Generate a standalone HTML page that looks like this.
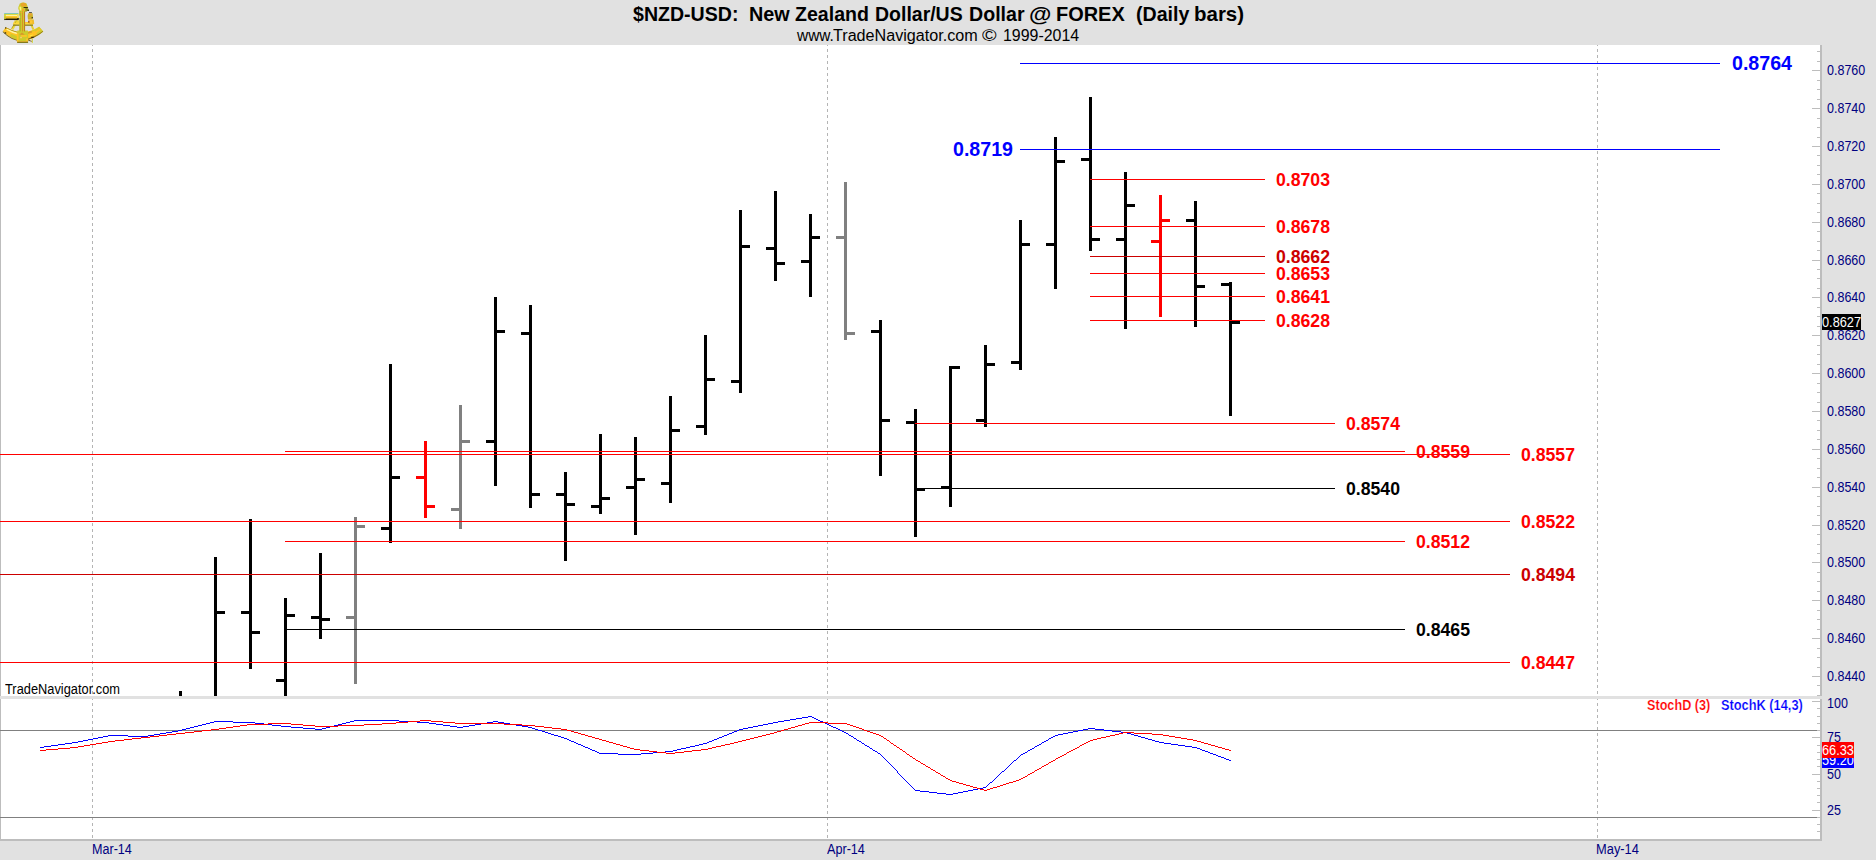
<!DOCTYPE html>
<html><head><meta charset="utf-8"><title>$NZD-USD Daily</title>
<style>
html,body{margin:0;padding:0;}
body{width:1876px;height:860px;background:#E1E1E1;overflow:hidden;position:relative;font-family:"Liberation Sans",sans-serif;}
.t{position:absolute;white-space:nowrap;line-height:1;}
.ax{font-size:13.33px;color:#000080;transform-origin:0 0;transform:scale(0.938,1.1);}
.lv{font-weight:bold;}
.box{position:absolute;color:#fff;font-size:13.33px;line-height:1;white-space:nowrap;overflow:hidden;}
.box span{position:absolute;left:0;top:1px;transform-origin:0 0;transform:scale(0.957,1.1);}
svg{position:absolute;left:0;top:0;}
</style></head><body>
<svg width="1876" height="860" viewBox="0 0 1876 860" shape-rendering="crispEdges">
<rect x="1" y="45" width="1819" height="651" fill="#fff"/>
<rect x="1" y="699" width="1819" height="140" fill="#fff"/>
<rect x="0" y="45" width="1" height="651" fill="#BDBDBD"/>
<rect x="0" y="699" width="1" height="140" fill="#BDBDBD"/>
<defs><clipPath id="cp"><rect x="0" y="45" width="1820" height="651"/><rect x="0" y="699" width="1820" height="140"/></clipPath></defs>
<line x1="92.5" y1="43" x2="92.5" y2="840" stroke="#B4B4B4" stroke-width="1" stroke-dasharray="3 3" clip-path="url(#cp)"/>
<line x1="827.5" y1="43" x2="827.5" y2="840" stroke="#B4B4B4" stroke-width="1" stroke-dasharray="3 3" clip-path="url(#cp)"/>
<line x1="1597.5" y1="43" x2="1597.5" y2="840" stroke="#B4B4B4" stroke-width="1" stroke-dasharray="3 3" clip-path="url(#cp)"/>
<rect x="0" y="730" width="1817" height="1" fill="#808080"/>
<rect x="0" y="817" width="1817" height="1" fill="#808080"/>
<rect x="179" y="691" width="3" height="5" fill="#000000"/>
<rect x="214" y="557" width="3" height="139" fill="#000000"/>
<rect x="217" y="611" width="8" height="3" fill="#000000"/>
<rect x="249" y="519" width="3" height="150" fill="#000000"/>
<rect x="241" y="611" width="8" height="3" fill="#000000"/>
<rect x="252" y="631" width="8" height="3" fill="#000000"/>
<rect x="284" y="598" width="3" height="98" fill="#000000"/>
<rect x="276" y="679" width="8" height="3" fill="#000000"/>
<rect x="287" y="614" width="8" height="3" fill="#000000"/>
<rect x="319" y="553" width="3" height="86" fill="#000000"/>
<rect x="311" y="616" width="8" height="3" fill="#000000"/>
<rect x="322" y="618" width="8" height="3" fill="#000000"/>
<rect x="354" y="517" width="3" height="167" fill="#808080"/>
<rect x="346" y="616" width="8" height="3" fill="#808080"/>
<rect x="357" y="525" width="8" height="3" fill="#808080"/>
<rect x="389" y="364" width="3" height="179" fill="#000000"/>
<rect x="381" y="527" width="8" height="3" fill="#000000"/>
<rect x="392" y="476" width="8" height="3" fill="#000000"/>
<rect x="424" y="441" width="3" height="77" fill="#FF0000"/>
<rect x="416" y="476" width="8" height="3" fill="#FF0000"/>
<rect x="427" y="505" width="8" height="3" fill="#FF0000"/>
<rect x="459" y="405" width="3" height="124" fill="#808080"/>
<rect x="451" y="508" width="8" height="3" fill="#808080"/>
<rect x="462" y="440" width="8" height="3" fill="#808080"/>
<rect x="494" y="297" width="3" height="189" fill="#000000"/>
<rect x="486" y="440" width="8" height="3" fill="#000000"/>
<rect x="497" y="330" width="8" height="3" fill="#000000"/>
<rect x="529" y="305" width="3" height="203" fill="#000000"/>
<rect x="521" y="332" width="8" height="3" fill="#000000"/>
<rect x="532" y="493" width="8" height="3" fill="#000000"/>
<rect x="564" y="472" width="3" height="89" fill="#000000"/>
<rect x="556" y="493" width="8" height="3" fill="#000000"/>
<rect x="567" y="503" width="8" height="3" fill="#000000"/>
<rect x="599" y="434" width="3" height="80" fill="#000000"/>
<rect x="591" y="505" width="8" height="3" fill="#000000"/>
<rect x="602" y="497" width="8" height="3" fill="#000000"/>
<rect x="634" y="437" width="3" height="98" fill="#000000"/>
<rect x="626" y="486" width="8" height="3" fill="#000000"/>
<rect x="637" y="478" width="8" height="3" fill="#000000"/>
<rect x="669" y="396" width="3" height="107" fill="#000000"/>
<rect x="661" y="482" width="8" height="3" fill="#000000"/>
<rect x="672" y="429" width="8" height="3" fill="#000000"/>
<rect x="704" y="335" width="3" height="100" fill="#000000"/>
<rect x="696" y="425" width="8" height="3" fill="#000000"/>
<rect x="707" y="378" width="8" height="3" fill="#000000"/>
<rect x="739" y="210" width="3" height="183" fill="#000000"/>
<rect x="731" y="380" width="8" height="3" fill="#000000"/>
<rect x="742" y="245" width="8" height="3" fill="#000000"/>
<rect x="774" y="191" width="3" height="90" fill="#000000"/>
<rect x="766" y="247" width="8" height="3" fill="#000000"/>
<rect x="777" y="262" width="8" height="3" fill="#000000"/>
<rect x="809" y="214" width="3" height="83" fill="#000000"/>
<rect x="801" y="260" width="8" height="3" fill="#000000"/>
<rect x="812" y="236" width="8" height="3" fill="#000000"/>
<rect x="844" y="182" width="3" height="158" fill="#808080"/>
<rect x="836" y="236" width="8" height="3" fill="#808080"/>
<rect x="847" y="332" width="8" height="3" fill="#808080"/>
<rect x="879" y="320" width="3" height="156" fill="#000000"/>
<rect x="871" y="330" width="8" height="3" fill="#000000"/>
<rect x="882" y="419" width="8" height="3" fill="#000000"/>
<rect x="914" y="409" width="3" height="128" fill="#000000"/>
<rect x="906" y="421" width="8" height="3" fill="#000000"/>
<rect x="917" y="488" width="8" height="3" fill="#000000"/>
<rect x="949" y="366" width="3" height="141" fill="#000000"/>
<rect x="941" y="486" width="8" height="3" fill="#000000"/>
<rect x="952" y="366" width="8" height="3" fill="#000000"/>
<rect x="984" y="345" width="3" height="82" fill="#000000"/>
<rect x="976" y="419" width="8" height="3" fill="#000000"/>
<rect x="987" y="363" width="8" height="3" fill="#000000"/>
<rect x="1019" y="220" width="3" height="150" fill="#000000"/>
<rect x="1011" y="361" width="8" height="3" fill="#000000"/>
<rect x="1022" y="243" width="8" height="3" fill="#000000"/>
<rect x="1054" y="137" width="3" height="152" fill="#000000"/>
<rect x="1046" y="243" width="8" height="3" fill="#000000"/>
<rect x="1057" y="160" width="8" height="3" fill="#000000"/>
<rect x="1089" y="97" width="3" height="154" fill="#000000"/>
<rect x="1081" y="158" width="8" height="3" fill="#000000"/>
<rect x="1092" y="238" width="8" height="3" fill="#000000"/>
<rect x="1124" y="172" width="3" height="157" fill="#000000"/>
<rect x="1116" y="238" width="8" height="3" fill="#000000"/>
<rect x="1127" y="204" width="8" height="3" fill="#000000"/>
<rect x="1159" y="195" width="3" height="122" fill="#FF0000"/>
<rect x="1151" y="240" width="8" height="3" fill="#FF0000"/>
<rect x="1162" y="219" width="8" height="3" fill="#FF0000"/>
<rect x="1194" y="201" width="3" height="126" fill="#000000"/>
<rect x="1186" y="219" width="8" height="3" fill="#000000"/>
<rect x="1197" y="285" width="8" height="3" fill="#000000"/>
<rect x="1229" y="282" width="3" height="134" fill="#000000"/>
<rect x="1221" y="283" width="8" height="3" fill="#000000"/>
<rect x="1232" y="321" width="8" height="3" fill="#000000"/>
<rect x="1020" y="63" width="700" height="1" fill="#0000FF"/>
<rect x="1020" y="149" width="700" height="1" fill="#0000FF"/>
<rect x="1090" y="179" width="175" height="1" fill="#FF0000"/>
<rect x="1090" y="226" width="175" height="1" fill="#FF0000"/>
<rect x="1090" y="256" width="175" height="1" fill="#CC0000"/>
<rect x="1090" y="273" width="175" height="1" fill="#FF0000"/>
<rect x="1090" y="296" width="175" height="1" fill="#FF0000"/>
<rect x="1090" y="320" width="175" height="1" fill="#FF0000"/>
<rect x="915" y="423" width="420" height="1" fill="#FF0000"/>
<rect x="285" y="451" width="1120" height="1" fill="#FF0000"/>
<rect x="0" y="454" width="1510" height="1" fill="#FF0000"/>
<rect x="915" y="488" width="420" height="1" fill="#000000"/>
<rect x="0" y="521" width="1510" height="1" fill="#FF0000"/>
<rect x="285" y="541" width="1120" height="1" fill="#FF0000"/>
<rect x="0" y="574" width="1510" height="1" fill="#CC0000"/>
<rect x="285" y="629" width="1120" height="1" fill="#000000"/>
<rect x="0" y="662" width="1510" height="1" fill="#FF0000"/>
<path d="M808 716h4v1h-4zM802 717h6v1h-6zM812 717h2v1h-2zM796 718h6v1h-6zM814 718h2v1h-2zM790 719h6v1h-6zM816 719h2v1h-2zM354 720h45v1h-45zM784 720h6v1h-6zM818 720h2v1h-2zM214 721h19v1h-19zM350 721h4v1h-4zM399 721h18v1h-18zM493 721h5v1h-5zM778 721h6v1h-6zM820 721h3v1h-3zM210 722h4v1h-4zM233 722h22v1h-22zM346 722h4v1h-4zM417 722h12v1h-12zM487 722h6v1h-6zM498 722h6v1h-6zM773 722h5v1h-5zM823 722h2v1h-2zM206 723h4v1h-4zM255 723h9v1h-9zM342 723h4v1h-4zM429 723h7v1h-7zM481 723h6v1h-6zM504 723h6v1h-6zM768 723h5v1h-5zM825 723h2v1h-2zM202 724h4v1h-4zM264 724h8v1h-8zM338 724h4v1h-4zM436 724h7v1h-7zM475 724h6v1h-6zM510 724h6v1h-6zM763 724h5v1h-5zM827 724h2v1h-2zM198 725h4v1h-4zM272 725h9v1h-9zM334 725h4v1h-4zM443 725h7v1h-7zM469 725h6v1h-6zM516 725h6v1h-6zM758 725h5v1h-5zM829 725h2v1h-2zM194 726h4v1h-4zM281 726h10v1h-10zM330 726h4v1h-4zM450 726h7v1h-7zM463 726h6v1h-6zM522 726h6v1h-6zM753 726h5v1h-5zM831 726h2v1h-2zM190 727h4v1h-4zM291 727h12v1h-12zM326 727h4v1h-4zM457 727h6v1h-6zM528 727h4v1h-4zM748 727h5v1h-5zM833 727h3v1h-3zM186 728h4v1h-4zM303 728h12v1h-12zM322 728h4v1h-4zM532 728h3v1h-3zM743 728h5v1h-5zM836 728h2v1h-2zM1088 728h7v1h-7zM182 729h4v1h-4zM315 729h7v1h-7zM535 729h3v1h-3zM739 729h4v1h-4zM838 729h2v1h-2zM1083 729h5v1h-5zM1095 729h9v1h-9zM178 730h4v1h-4zM538 730h4v1h-4zM737 730h2v1h-2zM840 730h2v1h-2zM1078 730h5v1h-5zM1104 730h8v1h-8zM172 731h6v1h-6zM542 731h3v1h-3zM734 731h3v1h-3zM842 731h2v1h-2zM1073 731h5v1h-5zM1112 731h9v1h-9zM166 732h6v1h-6zM545 732h3v1h-3zM732 732h2v1h-2zM844 732h2v1h-2zM1068 732h5v1h-5zM1121 732h6v1h-6zM160 733h6v1h-6zM548 733h3v1h-3zM729 733h3v1h-3zM846 733h2v1h-2zM1063 733h5v1h-5zM1127 733h4v1h-4zM154 734h6v1h-6zM551 734h3v1h-3zM727 734h2v1h-2zM848 734h1v1h-1zM1058 734h5v1h-5zM1131 734h3v1h-3zM108 735h20v1h-20zM148 735h6v1h-6zM554 735h4v1h-4zM724 735h3v1h-3zM849 735h2v1h-2zM1055 735h3v1h-3zM1134 735h4v1h-4zM103 736h5v1h-5zM128 736h20v1h-20zM558 736h3v1h-3zM722 736h2v1h-2zM851 736h2v1h-2zM1053 736h2v1h-2zM1138 736h3v1h-3zM98 737h5v1h-5zM561 737h3v1h-3zM719 737h3v1h-3zM853 737h1v1h-1zM1051 737h2v1h-2zM1141 737h4v1h-4zM93 738h5v1h-5zM564 738h3v1h-3zM717 738h2v1h-2zM854 738h2v1h-2zM1049 738h2v1h-2zM1145 738h3v1h-3zM88 739h5v1h-5zM567 739h2v1h-2zM714 739h3v1h-3zM856 739h1v1h-1zM1048 739h1v1h-1zM1148 739h4v1h-4zM83 740h5v1h-5zM569 740h2v1h-2zM712 740h2v1h-2zM857 740h2v1h-2zM1046 740h2v1h-2zM1152 740h3v1h-3zM78 741h5v1h-5zM571 741h3v1h-3zM709 741h3v1h-3zM859 741h2v1h-2zM1044 741h2v1h-2zM1155 741h4v1h-4zM72 742h6v1h-6zM574 742h2v1h-2zM707 742h2v1h-2zM861 742h1v1h-1zM1042 742h2v1h-2zM1159 742h5v1h-5zM65 743h7v1h-7zM576 743h2v1h-2zM703 743h4v1h-4zM862 743h2v1h-2zM1041 743h1v1h-1zM1164 743h7v1h-7zM58 744h7v1h-7zM578 744h3v1h-3zM699 744h4v1h-4zM864 744h1v1h-1zM1039 744h2v1h-2zM1171 744h7v1h-7zM51 745h7v1h-7zM581 745h2v1h-2zM695 745h4v1h-4zM865 745h2v1h-2zM1037 745h2v1h-2zM1178 745h7v1h-7zM44 746h7v1h-7zM583 746h2v1h-2zM690 746h5v1h-5zM867 746h2v1h-2zM1035 746h2v1h-2zM1185 746h7v1h-7zM40 747h4v1h-4zM585 747h3v1h-3zM686 747h4v1h-4zM869 747h1v1h-1zM1034 747h1v1h-1zM1192 747h5v1h-5zM588 748h2v1h-2zM681 748h5v1h-5zM870 748h2v1h-2zM1032 748h2v1h-2zM1197 748h3v1h-3zM590 749h2v1h-2zM677 749h4v1h-4zM872 749h1v1h-1zM1030 749h2v1h-2zM1200 749h2v1h-2zM592 750h3v1h-3zM673 750h4v1h-4zM873 750h2v1h-2zM1028 750h2v1h-2zM1202 750h3v1h-3zM595 751h2v1h-2zM665 751h8v1h-8zM875 751h2v1h-2zM1027 751h1v1h-1zM1205 751h3v1h-3zM597 752h2v1h-2zM653 752h12v1h-12zM877 752h1v1h-1zM1025 752h2v1h-2zM1208 752h2v1h-2zM599 753h19v1h-19zM641 753h12v1h-12zM878 753h2v1h-2zM1023 753h2v1h-2zM1210 753h3v1h-3zM618 754h23v1h-23zM880 754h1v1h-1zM1021 754h2v1h-2zM1213 754h3v1h-3zM881 755h1v1h-1zM1020 755h1v1h-1zM1216 755h2v1h-2zM882 756h1v1h-1zM1019 756h1v1h-1zM1218 756h3v1h-3zM883 757h1v1h-1zM1018 757h1v1h-1zM1221 757h3v1h-3zM884 758h1v1h-1zM1017 758h1v1h-1zM1224 758h2v1h-2zM885 759h1v1h-1zM1016 759h1v1h-1zM1226 759h3v1h-3zM886 760h1v1h-1zM1014 760h2v1h-2zM1229 760h2v1h-2zM887 761h1v1h-1zM1013 761h1v1h-1zM888 762h1v1h-1zM1012 762h1v1h-1zM889 763h1v1h-1zM1011 763h1v1h-1zM890 764h1v1h-1zM1010 764h1v1h-1zM891 765h1v1h-1zM1009 765h1v1h-1zM892 766h1v1h-1zM1008 766h1v1h-1zM893 767h1v1h-1zM1007 767h1v1h-1zM894 768h1v1h-1zM1006 768h1v1h-1zM895 769h1v1h-1zM1005 769h1v1h-1zM896 770h1v1h-1zM1004 770h1v1h-1zM897 771h1v1h-1zM1002 771h2v1h-2zM897 772h1v1h-1zM1001 772h1v1h-1zM898 773h1v1h-1zM1000 773h1v1h-1zM899 774h1v1h-1zM999 774h1v1h-1zM900 775h1v1h-1zM998 775h1v1h-1zM901 776h1v1h-1zM997 776h1v1h-1zM902 777h1v1h-1zM996 777h1v1h-1zM903 778h1v1h-1zM995 778h1v1h-1zM904 779h1v1h-1zM994 779h1v1h-1zM905 780h1v1h-1zM993 780h1v1h-1zM906 781h1v1h-1zM992 781h1v1h-1zM907 782h1v1h-1zM990 782h2v1h-2zM908 783h1v1h-1zM989 783h1v1h-1zM909 784h1v1h-1zM988 784h1v1h-1zM910 785h1v1h-1zM987 785h1v1h-1zM911 786h1v1h-1zM986 786h1v1h-1zM912 787h1v1h-1zM983 787h3v1h-3zM913 788h1v1h-1zM978 788h5v1h-5zM914 789h1v1h-1zM973 789h5v1h-5zM915 790h5v1h-5zM968 790h5v1h-5zM920 791h9v1h-9zM963 791h5v1h-5zM929 792h8v1h-8zM958 792h5v1h-5zM937 793h9v1h-9zM953 793h5v1h-5zM946 794h7v1h-7z" fill="#0000FF"/>
<path d="M420 720h11v1h-11zM408 721h12v1h-12zM431 721h12v1h-12zM396 722h12v1h-12zM443 722h12v1h-12zM809 722h19v1h-19zM268 723h23v1h-23zM382 723h14v1h-14zM455 723h49v1h-49zM805 723h4v1h-4zM828 723h19v1h-19zM247 724h21v1h-21zM291 724h12v1h-12zM364 724h18v1h-18zM504 724h18v1h-18zM802 724h3v1h-3zM847 724h3v1h-3zM240 725h7v1h-7zM303 725h12v1h-12zM338 725h26v1h-26zM522 725h13v1h-13zM798 725h4v1h-4zM850 725h3v1h-3zM233 726h7v1h-7zM315 726h23v1h-23zM535 726h9v1h-9zM795 726h3v1h-3zM853 726h3v1h-3zM226 727h7v1h-7zM544 727h8v1h-8zM791 727h4v1h-4zM856 727h3v1h-3zM219 728h7v1h-7zM552 728h9v1h-9zM788 728h3v1h-3zM859 728h3v1h-3zM211 729h8v1h-8zM561 729h6v1h-6zM784 729h4v1h-4zM862 729h2v1h-2zM202 730h9v1h-9zM567 730h4v1h-4zM781 730h3v1h-3zM864 730h3v1h-3zM194 731h8v1h-8zM571 731h3v1h-3zM777 731h4v1h-4zM867 731h3v1h-3zM185 732h9v1h-9zM574 732h4v1h-4zM774 732h3v1h-3zM870 732h3v1h-3zM1123 732h11v1h-11zM176 733h9v1h-9zM578 733h3v1h-3zM770 733h4v1h-4zM873 733h3v1h-3zM1119 733h4v1h-4zM1134 733h18v1h-18zM167 734h9v1h-9zM581 734h4v1h-4zM766 734h4v1h-4zM876 734h3v1h-3zM1115 734h4v1h-4zM1152 734h11v1h-11zM159 735h8v1h-8zM585 735h3v1h-3zM762 735h4v1h-4zM879 735h2v1h-2zM1110 735h5v1h-5zM1163 735h6v1h-6zM150 736h9v1h-9zM588 736h4v1h-4zM758 736h4v1h-4zM881 736h2v1h-2zM1106 736h4v1h-4zM1169 736h6v1h-6zM141 737h9v1h-9zM592 737h3v1h-3zM754 737h4v1h-4zM883 737h1v1h-1zM1101 737h5v1h-5zM1175 737h6v1h-6zM132 738h9v1h-9zM595 738h4v1h-4zM750 738h4v1h-4zM884 738h2v1h-2zM1097 738h4v1h-4zM1181 738h6v1h-6zM124 739h8v1h-8zM599 739h3v1h-3zM746 739h4v1h-4zM886 739h1v1h-1zM1093 739h4v1h-4zM1187 739h6v1h-6zM115 740h9v1h-9zM602 740h4v1h-4zM742 740h4v1h-4zM887 740h2v1h-2zM1090 740h3v1h-3zM1193 740h4v1h-4zM108 741h7v1h-7zM606 741h3v1h-3zM738 741h4v1h-4zM889 741h1v1h-1zM1088 741h2v1h-2zM1197 741h4v1h-4zM102 742h6v1h-6zM609 742h4v1h-4zM734 742h4v1h-4zM890 742h1v1h-1zM1086 742h2v1h-2zM1201 742h3v1h-3zM96 743h6v1h-6zM613 743h3v1h-3zM730 743h4v1h-4zM891 743h2v1h-2zM1084 743h2v1h-2zM1204 743h4v1h-4zM90 744h6v1h-6zM616 744h4v1h-4zM725 744h5v1h-5zM893 744h1v1h-1zM1082 744h2v1h-2zM1208 744h3v1h-3zM84 745h6v1h-6zM620 745h3v1h-3zM721 745h4v1h-4zM894 745h2v1h-2zM1080 745h2v1h-2zM1211 745h4v1h-4zM78 746h6v1h-6zM623 746h4v1h-4zM716 746h5v1h-5zM896 746h1v1h-1zM1079 746h1v1h-1zM1215 746h3v1h-3zM70 747h8v1h-8zM627 747h3v1h-3zM712 747h4v1h-4zM897 747h2v1h-2zM1077 747h2v1h-2zM1218 747h4v1h-4zM58 748h12v1h-12zM630 748h4v1h-4zM708 748h4v1h-4zM899 748h1v1h-1zM1075 748h2v1h-2zM1222 748h3v1h-3zM46 749h12v1h-12zM634 749h6v1h-6zM701 749h7v1h-7zM900 749h2v1h-2zM1073 749h2v1h-2zM1225 749h4v1h-4zM40 750h6v1h-6zM640 750h9v1h-9zM692 750h9v1h-9zM902 750h1v1h-1zM1071 750h2v1h-2zM1229 750h2v1h-2zM649 751h8v1h-8zM684 751h8v1h-8zM903 751h2v1h-2zM1069 751h2v1h-2zM657 752h9v1h-9zM675 752h9v1h-9zM905 752h1v1h-1zM1067 752h2v1h-2zM666 753h9v1h-9zM906 753h1v1h-1zM1066 753h1v1h-1zM907 754h2v1h-2zM1064 754h2v1h-2zM909 755h1v1h-1zM1062 755h2v1h-2zM910 756h2v1h-2zM1060 756h2v1h-2zM912 757h1v1h-1zM1058 757h2v1h-2zM913 758h2v1h-2zM1056 758h2v1h-2zM915 759h1v1h-1zM1055 759h1v1h-1zM916 760h2v1h-2zM1053 760h2v1h-2zM918 761h2v1h-2zM1051 761h2v1h-2zM920 762h1v1h-1zM1049 762h2v1h-2zM921 763h2v1h-2zM1048 763h1v1h-1zM923 764h2v1h-2zM1046 764h2v1h-2zM925 765h1v1h-1zM1044 765h2v1h-2zM926 766h2v1h-2zM1042 766h2v1h-2zM928 767h2v1h-2zM1041 767h1v1h-1zM930 768h1v1h-1zM1039 768h2v1h-2zM931 769h2v1h-2zM1037 769h2v1h-2zM933 770h2v1h-2zM1035 770h2v1h-2zM935 771h1v1h-1zM1034 771h1v1h-1zM936 772h2v1h-2zM1032 772h2v1h-2zM938 773h2v1h-2zM1030 773h2v1h-2zM940 774h1v1h-1zM1028 774h2v1h-2zM941 775h2v1h-2zM1027 775h1v1h-1zM943 776h2v1h-2zM1025 776h2v1h-2zM945 777h1v1h-1zM1023 777h2v1h-2zM946 778h2v1h-2zM1021 778h2v1h-2zM948 779h2v1h-2zM1019 779h2v1h-2zM950 780h2v1h-2zM1016 780h3v1h-3zM952 781h4v1h-4zM1013 781h3v1h-3zM956 782h3v1h-3zM1009 782h4v1h-4zM959 783h4v1h-4zM1006 783h3v1h-3zM963 784h3v1h-3zM1003 784h3v1h-3zM966 785h4v1h-4zM1000 785h3v1h-3zM970 786h3v1h-3zM997 786h3v1h-3zM973 787h4v1h-4zM993 787h4v1h-4zM977 788h3v1h-3zM990 788h3v1h-3zM980 789h4v1h-4zM987 789h3v1h-3zM984 790h3v1h-3z" fill="#FF0000"/>
<rect x="1820" y="45" width="2" height="651" fill="#BDBDBD"/>
<rect x="1820" y="699" width="2" height="142" fill="#BDBDBD"/>
<rect x="0" y="839" width="1822" height="2" fill="#BDBDBD"/>
<rect x="1817" y="51" width="3" height="1" fill="#BDBDBD"/>
<rect x="1817" y="61" width="3" height="1" fill="#BDBDBD"/>
<rect x="1812" y="70" width="8" height="1" fill="#BDBDBD"/>
<rect x="1817" y="80" width="3" height="1" fill="#BDBDBD"/>
<rect x="1817" y="89" width="3" height="1" fill="#BDBDBD"/>
<rect x="1817" y="99" width="3" height="1" fill="#BDBDBD"/>
<rect x="1812" y="108" width="8" height="1" fill="#BDBDBD"/>
<rect x="1817" y="118" width="3" height="1" fill="#BDBDBD"/>
<rect x="1817" y="127" width="3" height="1" fill="#BDBDBD"/>
<rect x="1817" y="137" width="3" height="1" fill="#BDBDBD"/>
<rect x="1812" y="146" width="8" height="1" fill="#BDBDBD"/>
<rect x="1817" y="155" width="3" height="1" fill="#BDBDBD"/>
<rect x="1817" y="165" width="3" height="1" fill="#BDBDBD"/>
<rect x="1817" y="174" width="3" height="1" fill="#BDBDBD"/>
<rect x="1812" y="184" width="8" height="1" fill="#BDBDBD"/>
<rect x="1817" y="193" width="3" height="1" fill="#BDBDBD"/>
<rect x="1817" y="203" width="3" height="1" fill="#BDBDBD"/>
<rect x="1817" y="212" width="3" height="1" fill="#BDBDBD"/>
<rect x="1812" y="222" width="8" height="1" fill="#BDBDBD"/>
<rect x="1817" y="231" width="3" height="1" fill="#BDBDBD"/>
<rect x="1817" y="241" width="3" height="1" fill="#BDBDBD"/>
<rect x="1817" y="250" width="3" height="1" fill="#BDBDBD"/>
<rect x="1812" y="260" width="8" height="1" fill="#BDBDBD"/>
<rect x="1817" y="269" width="3" height="1" fill="#BDBDBD"/>
<rect x="1817" y="278" width="3" height="1" fill="#BDBDBD"/>
<rect x="1817" y="288" width="3" height="1" fill="#BDBDBD"/>
<rect x="1812" y="297" width="8" height="1" fill="#BDBDBD"/>
<rect x="1817" y="307" width="3" height="1" fill="#BDBDBD"/>
<rect x="1817" y="316" width="3" height="1" fill="#BDBDBD"/>
<rect x="1817" y="326" width="3" height="1" fill="#BDBDBD"/>
<rect x="1812" y="335" width="8" height="1" fill="#BDBDBD"/>
<rect x="1817" y="345" width="3" height="1" fill="#BDBDBD"/>
<rect x="1817" y="354" width="3" height="1" fill="#BDBDBD"/>
<rect x="1817" y="364" width="3" height="1" fill="#BDBDBD"/>
<rect x="1812" y="373" width="8" height="1" fill="#BDBDBD"/>
<rect x="1817" y="383" width="3" height="1" fill="#BDBDBD"/>
<rect x="1817" y="392" width="3" height="1" fill="#BDBDBD"/>
<rect x="1817" y="402" width="3" height="1" fill="#BDBDBD"/>
<rect x="1812" y="411" width="8" height="1" fill="#BDBDBD"/>
<rect x="1817" y="420" width="3" height="1" fill="#BDBDBD"/>
<rect x="1817" y="430" width="3" height="1" fill="#BDBDBD"/>
<rect x="1817" y="439" width="3" height="1" fill="#BDBDBD"/>
<rect x="1812" y="449" width="8" height="1" fill="#BDBDBD"/>
<rect x="1817" y="458" width="3" height="1" fill="#BDBDBD"/>
<rect x="1817" y="468" width="3" height="1" fill="#BDBDBD"/>
<rect x="1817" y="477" width="3" height="1" fill="#BDBDBD"/>
<rect x="1812" y="487" width="8" height="1" fill="#BDBDBD"/>
<rect x="1817" y="496" width="3" height="1" fill="#BDBDBD"/>
<rect x="1817" y="506" width="3" height="1" fill="#BDBDBD"/>
<rect x="1817" y="515" width="3" height="1" fill="#BDBDBD"/>
<rect x="1812" y="525" width="8" height="1" fill="#BDBDBD"/>
<rect x="1817" y="534" width="3" height="1" fill="#BDBDBD"/>
<rect x="1817" y="544" width="3" height="1" fill="#BDBDBD"/>
<rect x="1817" y="553" width="3" height="1" fill="#BDBDBD"/>
<rect x="1812" y="562" width="8" height="1" fill="#BDBDBD"/>
<rect x="1817" y="572" width="3" height="1" fill="#BDBDBD"/>
<rect x="1817" y="581" width="3" height="1" fill="#BDBDBD"/>
<rect x="1817" y="591" width="3" height="1" fill="#BDBDBD"/>
<rect x="1812" y="600" width="8" height="1" fill="#BDBDBD"/>
<rect x="1817" y="610" width="3" height="1" fill="#BDBDBD"/>
<rect x="1817" y="619" width="3" height="1" fill="#BDBDBD"/>
<rect x="1817" y="629" width="3" height="1" fill="#BDBDBD"/>
<rect x="1812" y="638" width="8" height="1" fill="#BDBDBD"/>
<rect x="1817" y="648" width="3" height="1" fill="#BDBDBD"/>
<rect x="1817" y="657" width="3" height="1" fill="#BDBDBD"/>
<rect x="1817" y="667" width="3" height="1" fill="#BDBDBD"/>
<rect x="1812" y="676" width="8" height="1" fill="#BDBDBD"/>
<rect x="1817" y="685" width="3" height="1" fill="#BDBDBD"/>
<rect x="1817" y="695" width="3" height="1" fill="#BDBDBD"/>
<rect x="1812" y="701" width="8" height="1" fill="#BDBDBD"/>
<rect x="1817" y="708" width="3" height="1" fill="#BDBDBD"/>
<rect x="1817" y="716" width="3" height="1" fill="#BDBDBD"/>
<rect x="1817" y="723" width="3" height="1" fill="#BDBDBD"/>
<rect x="1817" y="730" width="3" height="1" fill="#BDBDBD"/>
<rect x="1812" y="737" width="8" height="1" fill="#BDBDBD"/>
<rect x="1817" y="745" width="3" height="1" fill="#BDBDBD"/>
<rect x="1817" y="752" width="3" height="1" fill="#BDBDBD"/>
<rect x="1817" y="759" width="3" height="1" fill="#BDBDBD"/>
<rect x="1817" y="766" width="3" height="1" fill="#BDBDBD"/>
<rect x="1812" y="774" width="8" height="1" fill="#BDBDBD"/>
<rect x="1817" y="781" width="3" height="1" fill="#BDBDBD"/>
<rect x="1817" y="788" width="3" height="1" fill="#BDBDBD"/>
<rect x="1817" y="795" width="3" height="1" fill="#BDBDBD"/>
<rect x="1817" y="802" width="3" height="1" fill="#BDBDBD"/>
<rect x="1812" y="810" width="8" height="1" fill="#BDBDBD"/>
<rect x="1817" y="817" width="3" height="1" fill="#BDBDBD"/>
<rect x="1817" y="824" width="3" height="1" fill="#BDBDBD"/>
<rect x="1817" y="831" width="3" height="1" fill="#BDBDBD"/>
</svg>
<svg style="position:absolute;left:0;top:0;" width="48" height="45" viewBox="0 0 48 45" shape-rendering="auto">
<defs>
<linearGradient id="tg" x1="0" y1="0" x2="0" y2="1">
<stop offset="0" stop-color="#78C4C0"/><stop offset="0.13" stop-color="#8CCAB0"/><stop offset="0.2" stop-color="#D8DA38"/><stop offset="0.34" stop-color="#FFF6B0"/><stop offset="0.46" stop-color="#FFD030"/><stop offset="0.66" stop-color="#F0B020"/><stop offset="0.78" stop-color="#8A7818"/><stop offset="0.86" stop-color="#2A2006"/><stop offset="1" stop-color="#181000"/>
</linearGradient>
<linearGradient id="cg" x1="0" y1="0" x2="1" y2="0">
<stop offset="0" stop-color="#D6D030"/><stop offset="0.14" stop-color="#8C8420"/><stop offset="0.26" stop-color="#CDCB2B"/><stop offset="0.46" stop-color="#CDCB2B"/><stop offset="0.52" stop-color="#D89028"/><stop offset="0.66" stop-color="#D89028"/><stop offset="0.72" stop-color="#CDCB2B"/><stop offset="0.82" stop-color="#CDCB2B"/><stop offset="0.88" stop-color="#C87820"/><stop offset="1" stop-color="#B09020"/>
</linearGradient>
</defs>
<!-- light halo bits -->
<path d="M4.6 20.1 L14 20.1 L14 21 L4.6 21Z" fill="#F4F4FA"/>
<path d="M25.2 15.4 L27.4 15.4 L27.4 21.6 L25.4 21.6Z" fill="#D8D8F8"/>
<!-- crescent arc -->
<path d="M5.6 27.3 Q13 31.2 22.4 32.8 Q32 31.2 39.1 26.8 L43.2 31.5 Q33 40.4 22.4 40.8 Q12 40.4 2.9 31.2Z" fill="#FFC222"/>
<!-- left arm shading -->
<path d="M7 28.6 Q13 31.8 18.2 33 L18 34.6 Q12 33.2 6.2 29.8Z" fill="#FFF3A0"/>
<path d="M10.6 33.6 Q14 35.4 17.6 36.2 L17.2 40 Q13.4 39 10.4 36.6Z" fill="#CDCB2B"/>
<path d="M2.9 31.2 Q12 40.4 22.4 40.6 L22.4 41.4 Q11.6 41.2 2.7 31.9Z" fill="#7A6A14"/>
<path d="M5.6 27.3 Q12 30.8 18.2 32.1 L18.2 32.7 Q12 31.4 5.2 27.8Z" fill="#A09020"/>
<rect x="4.6" y="32.4" width="1.6" height="1.1" fill="#1A1200"/>
<rect x="5" y="27.5" width="1.2" height="1" fill="#2A2004"/>
<!-- right arm shading -->
<path d="M39.1 26.8 L43.2 31.5 Q40.6 33.8 37.6 35.6 L34.4 30 Q37 28.6 39.1 26.8Z" fill="#D2CB2C"/>
<path d="M28 35.2 Q34.6 33.2 39.6 28.6 L40.8 30 Q35 35 28.2 37Z" fill="#FFC222"/>
<path d="M28.2 32 Q31.6 31 34.4 29.4 L35 30.6 Q31.8 32.4 28.2 33.4Z" fill="#D2CB2C"/>
<path d="M29.6 35.8 L32.6 34.4 L32.9 35.3 L29.8 36.6Z" fill="#FFF040"/>
<path d="M28.2 38.4 Q36 36.4 42.8 31.1 L43.2 31.5 Q33 40.4 22.4 40.6 L22.4 39.6 Q25.4 39.4 28.2 38.6Z" fill="#8A7616"/>
<path d="M28 32.2 L31.6 30.8 L32 32.4 L28.2 33.8Z" fill="#D89A2A"/>
<rect x="31.2" y="36.8" width="2.4" height="1" fill="#1E1402"/>
<!-- legs + crossbar -->
<path d="M14.6 20.4 L19.2 20.4 L19.2 24.6 L12.8 24.6Z" fill="#F2D63A"/>
<path d="M25.1 22 L33 22 L33.4 24.6 L25.1 24.6Z" fill="#F6C030"/>
<path d="M17.4 20.4 L12.2 29.4" stroke="#EED83A" stroke-width="2.3" fill="none"/>
<path d="M16 21.4 L11.6 28.6" stroke="#8A7A1A" stroke-width="0.6" fill="none"/>
<path d="M30.6 23 L33.4 29.6" stroke="#E6D034" stroke-width="2" fill="none"/>
<path d="M13.2 23.6 L33 23.6" stroke="#FFD63C" stroke-width="1.8" fill="none"/>
<path d="M13.2 25.2 L33 25.2" stroke="#8E8420" stroke-width="1.3" fill="none"/>
<!-- center block -->
<path d="M17.3 30.6 L27.9 30.6 L28.2 42.8 L17 42.8Z" fill="#CDCB2B"/>
<rect x="16.8" y="33.2" width="1.7" height="8.6" fill="#FFC222"/>
<path d="M19.5 34.4 L22 32.4 L24.6 34.4 L24.6 34.8 L19.5 34.8Z" fill="#D8962A"/>
<rect x="21.2" y="35.1" width="5.6" height="1.7" fill="#FFC426"/>
<rect x="20.2" y="36.8" width="1.6" height="1.4" fill="#FFC880"/>
<rect x="26.2" y="38.4" width="1.7" height="2.6" fill="#FFC426"/>
<rect x="17.4" y="41.4" width="10.6" height="0.8" fill="#D8922A"/>
<rect x="17.2" y="42.1" width="10.8" height="0.8" fill="#6E6614"/>
<!-- column -->
<rect x="19.2" y="11" width="5.9" height="20.4" fill="url(#cg)"/>
<rect x="19.2" y="15.6" width="0.9" height="2.4" fill="#C8D8F8"/>
<!-- top knob -->
<path d="M19.8 3.6 Q23.4 1.6 26.6 3.6 L28 7.4 L28.6 10.6 Q26 11.8 24.8 11.2 L19.6 11.2 Q17.6 9 18.4 7Z" fill="#CDCB2B"/>
<path d="M21.4 3 Q23.6 2.4 25.6 3.2 L26.6 6.6 L21.8 6.8 L20.4 5Z" fill="#E8A428"/>
<path d="M19.4 6.8 L21.2 6.8 L21.4 10.4 L19.8 10.4Z" fill="#FFF37A"/>
<path d="M22 8.6 L24.2 8.6 L24.2 11 L22 11Z" fill="#F0A828"/>
<path d="M23.6 7 L27.9 7 L27.9 7.9 L23.6 7.9Z" fill="#241A04"/>
<path d="M27.4 9.6 L28.8 9.6 L28.8 10.9 L27.4 10.9Z" fill="#1E1602"/>
<path d="M25.4 8 L27.4 8 L27.8 9.6 L26.6 11.4 L25.2 11.4Z" fill="#8E8A22"/>
<path d="M20.4 12.2 L22.4 12.2 L22.4 13 L20.4 13Z" fill="#F4B428"/>
<!-- small figure right -->
<rect x="29" y="12" width="2.9" height="1.2" fill="#5A5A52"/>
<path d="M28.2 13.2 L32.6 13.2 L33 17 L32.2 19.6 L28 19.6 L27.6 16Z" fill="#C8B42A"/>
<path d="M29.2 13.4 L31.6 13.4 L31.8 15.6 L29.2 15.6Z" fill="#F0A02C"/>
<path d="M28.6 17.4 L31.4 17.4 L31.4 18.6 L28.8 18.6Z" fill="#E0A42C"/>
<rect x="31.6" y="17" width="1.4" height="1.4" fill="#4A3E10"/>
<path d="M28 19.6 L33.8 19.6 L34.2 24 L29 24Z" fill="#F0BC2C"/>
<path d="M29.4 20.6 L32 20.6 L32.4 23.6 L29.8 23.6Z" fill="#FFC830"/>
<rect x="28.2" y="21.2" width="1.2" height="1.4" fill="#7A2A1A"/>
<!-- telescope -->
<rect x="4.2" y="13" width="14.3" height="7.1" fill="url(#tg)"/>
<rect x="4.2" y="14.2" width="1.5" height="5" fill="#C6CC30"/>
<rect x="17" y="14.4" width="1.8" height="3.4" fill="#F2E060"/>
<rect x="17.3" y="18.1" width="1.5" height="1.5" fill="#1A1000"/>
<!-- foot -->
<path d="M28.4 39.8 L31.8 41 L31.8 41.8 L28.4 40.8Z" fill="#6A4A12"/>
<rect x="31.8" y="39" width="1.1" height="3.9" fill="#D8CC2E"/>
<rect x="32.9" y="39.4" width="0.8" height="3.4" fill="#D4F0F4"/>
</svg>
<div class="t" style="left:633.01px;top:3px;font-size:20px;font-weight:bold;color:#000;transform-origin:0 0;transform:scale(0.9784,1.043);">$NZD-USD:</div>
<div class="t" style="left:749.43px;top:3px;font-size:20px;font-weight:bold;color:#000;transform-origin:0 0;transform:scale(0.9893,1.043);">New</div>
<div class="t" style="left:795.29px;top:3px;font-size:20px;font-weight:bold;color:#000;transform-origin:0 0;transform:scale(0.9779,1.043);">Zealand</div>
<div class="t" style="left:874.85px;top:3px;font-size:20px;font-weight:bold;color:#000;transform-origin:0 0;transform:scale(0.9741,1.043);">Dollar/US</div>
<div class="t" style="left:968.94px;top:3px;font-size:20px;font-weight:bold;color:#000;transform-origin:0 0;transform:scale(0.9803,1.043);">Dollar</div>
<div class="t" style="left:1028.97px;top:3px;font-size:20px;font-weight:bold;color:#000;transform-origin:0 0;transform:scale(1.1477,1.043);">@</div>
<div class="t" style="left:1055.82px;top:3px;font-size:20px;font-weight:bold;color:#000;transform-origin:0 0;transform:scale(0.9976,1.043);">FOREX</div>
<div class="t" style="left:1135.58px;top:3px;font-size:20px;font-weight:bold;color:#000;transform-origin:0 0;transform:scale(0.9798,1.043);">(Daily</div>
<div class="t" style="left:1194.48px;top:3px;font-size:20px;font-weight:bold;color:#000;transform-origin:0 0;transform:scale(1.0238,1.043);">bars)</div>
<div class="t" style="left:796.89px;top:28px;font-size:16px;color:#000;transform-origin:0 0;transform:scale(0.9654,1);">www.</div>
<div class="t" style="left:832.99px;top:28px;font-size:16px;color:#000;transform-origin:0 0;transform:scale(1.0084,1);">TradeNavigator.com</div>
<div class="t" style="left:982.11px;top:28px;font-size:16px;color:#000;transform-origin:0 0;transform:scale(1.2372,1);">©</div>
<div class="t" style="left:1002.62px;top:28px;font-size:16px;color:#000;transform-origin:0 0;transform:scale(0.9946,1);">1999-2014</div>
<div class="t lv" style="left:1732.4px;top:53px;font-size:20px;color:#0000FF;transform-origin:0 0;transform:scaleX(0.98);">0.8764</div>
<div class="t lv" style="left:953.4px;top:139px;font-size:20px;color:#0000FF;transform-origin:0 0;transform:scaleX(0.98);">0.8719</div>
<div class="t lv" style="left:1276.4px;top:171px;font-size:18px;color:#FF0000;transform-origin:0 0;transform:scaleX(0.98);">0.8703</div>
<div class="t lv" style="left:1276.4px;top:218px;font-size:18px;color:#FF0000;transform-origin:0 0;transform:scaleX(0.98);">0.8678</div>
<div class="t lv" style="left:1276.4px;top:248px;font-size:18px;color:#CC0000;transform-origin:0 0;transform:scaleX(0.98);">0.8662</div>
<div class="t lv" style="left:1276.4px;top:265px;font-size:18px;color:#FF0000;transform-origin:0 0;transform:scaleX(0.98);">0.8653</div>
<div class="t lv" style="left:1276.4px;top:288px;font-size:18px;color:#FF0000;transform-origin:0 0;transform:scaleX(0.98);">0.8641</div>
<div class="t lv" style="left:1276.4px;top:312px;font-size:18px;color:#FF0000;transform-origin:0 0;transform:scaleX(0.98);">0.8628</div>
<div class="t lv" style="left:1346.4px;top:415px;font-size:18px;color:#FF0000;transform-origin:0 0;transform:scaleX(0.98);">0.8574</div>
<div class="t lv" style="left:1416.4px;top:443px;font-size:18px;color:#FF0000;transform-origin:0 0;transform:scaleX(0.98);">0.8559</div>
<div class="t lv" style="left:1521.4px;top:446px;font-size:18px;color:#FF0000;transform-origin:0 0;transform:scaleX(0.98);">0.8557</div>
<div class="t lv" style="left:1346.4px;top:480px;font-size:18px;color:#000000;transform-origin:0 0;transform:scaleX(0.98);">0.8540</div>
<div class="t lv" style="left:1521.4px;top:513px;font-size:18px;color:#FF0000;transform-origin:0 0;transform:scaleX(0.98);">0.8522</div>
<div class="t lv" style="left:1416.4px;top:533px;font-size:18px;color:#FF0000;transform-origin:0 0;transform:scaleX(0.98);">0.8512</div>
<div class="t lv" style="left:1521.4px;top:566px;font-size:18px;color:#CC0000;transform-origin:0 0;transform:scaleX(0.98);">0.8494</div>
<div class="t lv" style="left:1416.4px;top:621px;font-size:18px;color:#000000;transform-origin:0 0;transform:scaleX(0.98);">0.8465</div>
<div class="t lv" style="left:1521.4px;top:654px;font-size:18px;color:#FF0000;transform-origin:0 0;transform:scaleX(0.98);">0.8447</div>
<div class="t ax" style="left:1827.2px;top:63px;">0.8760</div>
<div class="t ax" style="left:1827.2px;top:101px;">0.8740</div>
<div class="t ax" style="left:1827.2px;top:139px;">0.8720</div>
<div class="t ax" style="left:1827.2px;top:177px;">0.8700</div>
<div class="t ax" style="left:1827.2px;top:215px;">0.8680</div>
<div class="t ax" style="left:1827.2px;top:253px;">0.8660</div>
<div class="t ax" style="left:1827.2px;top:290px;">0.8640</div>
<div class="t ax" style="left:1827.2px;top:328px;">0.8620</div>
<div class="t ax" style="left:1827.2px;top:366px;">0.8600</div>
<div class="t ax" style="left:1827.2px;top:404px;">0.8580</div>
<div class="t ax" style="left:1827.2px;top:442px;">0.8560</div>
<div class="t ax" style="left:1827.2px;top:480px;">0.8540</div>
<div class="t ax" style="left:1827.2px;top:518px;">0.8520</div>
<div class="t ax" style="left:1827.2px;top:555px;">0.8500</div>
<div class="t ax" style="left:1827.2px;top:593px;">0.8480</div>
<div class="t ax" style="left:1827.2px;top:631px;">0.8460</div>
<div class="t ax" style="left:1827.2px;top:669px;">0.8440</div>
<div class="t ax" style="left:1827.2px;top:696px;">100</div>
<div class="t ax" style="left:1827.2px;top:730px;">75</div>
<div class="t ax" style="left:1827.2px;top:767px;">50</div>
<div class="t ax" style="left:1827.2px;top:803px;">25</div>
<div class="box" style="left:1822px;top:314px;width:39px;height:16px;background:#000;"><span>0.8627</span></div>
<div class="box" style="left:1822px;top:752px;width:32px;height:16px;background:#0000FF;"><span>59.20</span></div>
<div class="box" style="left:1822px;top:742px;width:32px;height:16px;background:#FF0000;"><span>66.33</span></div>
<div class="t" style="left:1646.6px;top:698px;font-size:13.33px;font-weight:bold;color:#FF0000;-webkit-text-stroke:0.2px #fff;transform-origin:0 0;transform:scale(0.949,1.1);">StochD (3)</div>
<div class="t" style="left:1720.9px;top:698px;font-size:13.33px;font-weight:bold;color:#0000FF;-webkit-text-stroke:0.2px #fff;transform-origin:0 0;transform:scale(0.9602,1.1);">StochK (14,3)</div>
<div class="t" style="left:4.56px;top:682px;font-size:13.33px;color:#000;transform-origin:0 0;transform:scale(0.9622,1.1);">TradeNavigator.com</div>
<div class="t" style="left:91.58px;top:842px;font-size:13.33px;color:#000080;transform-origin:0 0;transform:scale(0.9432,1.1);">Mar-14</div>
<div class="t" style="left:826.69px;top:842px;font-size:13.33px;color:#000080;transform-origin:0 0;transform:scale(0.947,1.1);">Apr-14</div>
<div class="t" style="left:1596.35px;top:842px;font-size:13.33px;color:#000080;transform-origin:0 0;transform:scale(0.9655,1.1);">May-14</div>
</body></html>
